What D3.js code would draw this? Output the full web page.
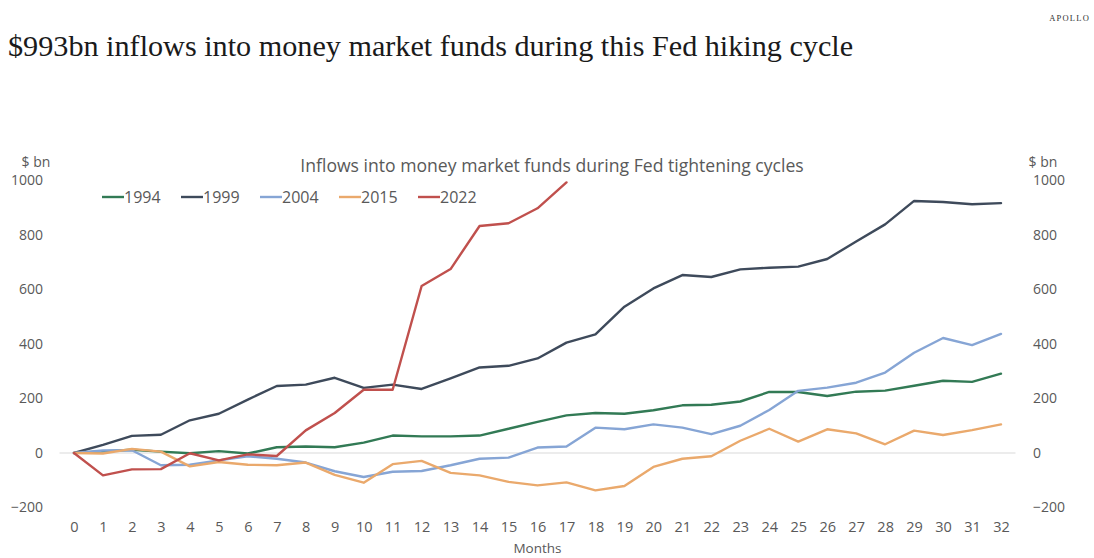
<!DOCTYPE html>
<html>
<head>
<meta charset="utf-8">
<script src="https://cdn.jsdelivr.net/npm/d3@7"></script>
<style>
  html, body { margin: 0; padding: 0; background: #ffffff; }
  svg { display: block; }
</style>
</head>
<body>
<svg id="chart" width="1094" height="558"></svg>
<script>
// Months since the first hike
const months = d3.range(0, 33);

// Cumulative money market fund inflows, $ bn, by tightening cycle
const s1994 = [0, 6, 12, 5, -1, 7, -2, 21, 24, 21, 38, 64, 61, 61, 64, 89, 114, 138, 147, 144, 157, 175, 177, 189, 224, 224, 209, 225, 229, 247, 265, 261, 291];
const s1999 = [0, 30, 63, 67, 120, 144, 196, 246, 251, 276, 239, 251, 235, 274, 314, 320, 347, 405, 435, 537, 604, 653, 646, 674, 680, 684, 712, 776, 839, 925, 921, 913, 917];
const s2004 = [0, 9, 10, -45, -43, -27, -12, -21, -35, -67, -88, -69, -66, -45, -21, -17, 20, 24, 93, 87, 105, 93, 69, 100, 158, 228, 240, 258, 295, 368, 422, 396, 437];
const s2015 = [0, -2, 15, 5, -49, -33, -43, -45, -35, -80, -109, -41, -29, -73, -82, -106, -119, -108, -137, -121, -51, -21, -12, 45, 89, 42, 87, 72, 32, 82, 66, 84, 105];
const s2022 = [0, -82, -60, -59, -1, -27, -5, -11, 83, 147, 232, 232, 613, 675, 833, 843, 898, 993];

const seriesNames = ["1994", "1999", "2004", "2015", "2022"];
const seriesValues = [s1994, s1999, s2004, s2015, s2022];
const seriesColors = ["#327a55", "#3e4a5b", "#86a5d5", "#eaa96c", "#c0504d"];

const yTicks = [-200, 0, 200, 400, 600, 800, 1000];

const titleText = "$993bn inflows into money market funds during this Fed hiking cycle";
const subtitleText = "Inflows into money market funds during Fed tightening cycles";
const brandText = "APOLLO";
const unitText = "$ bn";
const xAxisTitle = "Months";

const sans = "'Open Sans', 'Noto Sans', sans-serif";
const textGray = "#595959";

const svg = d3.select("#chart");

// Plot area
const plotLeft = 59.5, plotRight = 1015.5;
const x = d3.scalePoint().domain(months).range([plotLeft, plotRight]).padding(0.5);
const y = d3.scaleLinear().domain([-200, 1000]).range([507.5, 180.5]);

// Headline and brand
svg.append("text")
  .attr("x", 8).attr("y", 56)
  .attr("font-family", "'Liberation Serif', 'DejaVu Serif', serif")
  .attr("font-size", 30.2)
  .attr("fill", "#1a1a1a")
  .text(titleText);

svg.append("text")
  .attr("x", 1090).attr("y", 21)
  .attr("text-anchor", "end")
  .attr("font-family", "'Liberation Serif', serif")
  .attr("font-size", 8.5)
  .attr("letter-spacing", 1.2)
  .attr("fill", "#333")
  .text(brandText);

// Chart title
svg.append("text")
  .attr("x", 552).attr("y", 172)
  .attr("text-anchor", "middle")
  .attr("font-family", sans)
  .attr("font-size", 17.6)
  .attr("fill", textGray)
  .text(subtitleText);

// Zero line
svg.append("line")
  .attr("x1", plotLeft).attr("x2", plotRight)
  .attr("y1", y(0)).attr("y2", y(0))
  .attr("stroke", "#d9d9d9").attr("stroke-width", 1);

// Left value axis
const yLeft = svg.append("g")
  .attr("transform", `translate(${43},0)`)
  .call(d3.axisLeft(y).tickValues(yTicks).tickSize(0).tickPadding(0).tickFormat(d3.format("d")));
yLeft.select(".domain").remove();
yLeft.selectAll("text")
  .attr("font-family", sans).attr("font-size", 14).attr("fill", textGray);

// Right value axis
const yRight = svg.append("g")
  .attr("transform", `translate(${1033},0)`)
  .call(d3.axisRight(y).tickValues(yTicks).tickSize(0).tickPadding(0).tickFormat(d3.format("d")));
yRight.select(".domain").remove();
yRight.selectAll("text")
  .attr("font-family", sans).attr("font-size", 14).attr("fill", textGray);

// Unit labels above both axes
svg.append("text")
  .attr("x", 36).attr("y", 167).attr("text-anchor", "middle")
  .attr("font-family", sans).attr("font-size", 14).attr("fill", textGray)
  .text(unitText);
svg.append("text")
  .attr("x", 1043).attr("y", 167).attr("text-anchor", "middle")
  .attr("font-family", sans).attr("font-size", 14).attr("fill", textGray)
  .text(unitText);

// Category axis
const xAxis = svg.append("g")
  .attr("transform", `translate(0,${522})`)
  .call(d3.axisBottom(x).tickSize(0).tickPadding(0));
xAxis.select(".domain").remove();
xAxis.selectAll("text")
  .attr("font-family", sans).attr("font-size", 14.5).attr("fill", textGray);

svg.append("text")
  .attr("x", 537.5).attr("y", 553)
  .attr("text-anchor", "middle")
  .attr("font-family", sans).attr("font-size", 13.5).attr("fill", textGray)
  .text(xAxisTitle);

// Series lines
const line = d3.line()
  .x((d, i) => x(months[i]))
  .y(d => y(d));

svg.append("g")
  .selectAll("path")
  .data(seriesValues)
  .join("path")
  .attr("d", d => line(d))
  .attr("fill", "none")
  .attr("stroke", (d, i) => seriesColors[i])
  .attr("stroke-width", 2.4)
  .attr("stroke-linejoin", "round")
  .attr("stroke-linecap", "round");

// Legend
const legend = svg.append("g").attr("transform", "translate(102,197)");
const item = legend.selectAll("g")
  .data(seriesNames)
  .join("g")
  .attr("transform", (d, i) => `translate(${i * 79},0)`);
item.append("line")
  .attr("x1", 0).attr("x2", 22)
  .attr("stroke", (d, i) => seriesColors[i])
  .attr("stroke-width", 2.4);
item.append("text")
  .attr("x", 22).attr("dy", "0.35em")
  .attr("font-family", sans).attr("font-size", 16).attr("fill", textGray)
  .text(d => d);
</script>
</body>
</html>
